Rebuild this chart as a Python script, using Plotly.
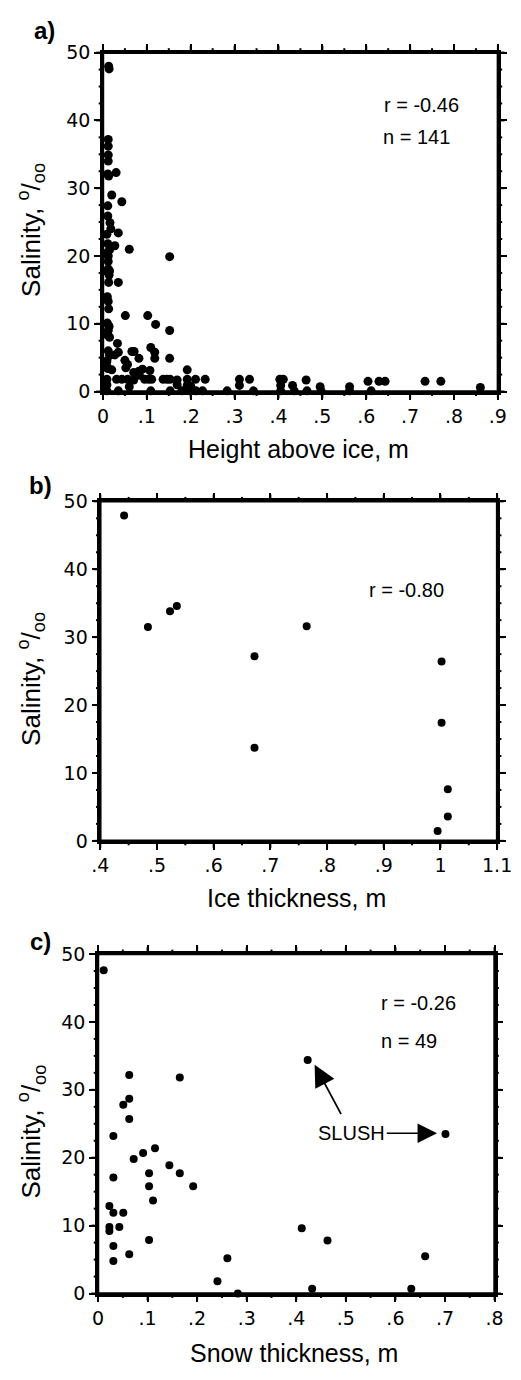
import numpy as np
import plotly.graph_objects as go

# ---------------- data ----------------
# Panel a: salinity vs height above ice
a_x = [0.013, 0.014, 0.012, 0.012, 0.012, 0.012, 0.011, 0.013,
       0.030, 0.020, 0.043,
       0.011, 0.011, 0.016, 0.018, 0.009, 0.035,
       0.011, 0.027, 0.015, 0.060, 0.152,
       0.010, 0.012, 0.012, 0.012, 0.010, 0.015, 0.014,
       0.013, 0.035,
       0.010, 0.012, 0.013,
       0.051, 0.102, 0.120, 0.152,
       0.010, 0.014, 0.012, 0.011, 0.015,
       0.033,
       0.012, 0.015, 0.035, 0.027,
       0.066, 0.071, 0.082, 0.109, 0.118, 0.118, 0.152,
       0.050, 0.056, 0.052,
       0.009, 0.008, 0.011, 0.020,
       0.082, 0.090, 0.107, 0.192,
       0.070, 0.083,
       0.009, 0.031, 0.043, 0.056, 0.070, 0.095, 0.104, 0.111, 0.137, 0.146,
       0.153, 0.169, 0.192, 0.211, 0.233, 0.311, 0.334, 0.403, 0.411, 0.463,
       0.604, 0.629, 0.643, 0.734, 0.770,
       0.009, 0.060, 0.169, 0.192, 0.200, 0.311, 0.405, 0.432, 0.495, 0.562, 0.860,
       0.009, 0.035, 0.109, 0.153, 0.180, 0.198, 0.212, 0.227, 0.283, 0.343,
       0.405, 0.436, 0.465, 0.497, 0.562, 0.611]
a_y = [48.0, 47.6, 37.2, 36.2, 34.9, 34.0, 32.1, 31.8,
       32.3, 29.0, 28.0,
       27.4, 25.9, 24.9, 24.0, 23.2, 23.4,
       21.8, 21.5, 20.9, 21.0, 19.9,
       20.5, 20.0, 19.2, 18.1, 17.7, 17.8, 17.2,
       16.1, 16.1,
       14.0, 13.3, 12.2,
       11.2, 11.2, 9.9, 9.0,
       10.1, 9.6, 9.0, 8.3, 8.0,
       7.1,
       6.0, 5.3, 5.8, 5.4,
       5.9, 5.9, 4.9, 6.5, 5.8, 4.9, 4.9,
       4.6, 4.0, 3.5,
       4.5, 3.9, 3.4, 3.2,
       3.0, 3.3, 3.1, 3.2,
       2.8, 2.4,
       1.8, 1.8, 1.8, 1.8, 1.7, 1.8, 1.8, 1.8, 1.8, 1.8,
       1.8, 1.7, 1.8, 1.8, 1.8, 1.8, 1.8, 1.8, 1.8, 1.7,
       1.5, 1.5, 1.5, 1.5, 1.5,
       1.0, 0.7, 1.0, 0.9, 0.8, 0.9, 0.9, 0.9, 0.7, 0.7, 0.6,
       0.1, 0.1, 0.1, 0.1, 0.1, 0.1, 0.1, 0.1, 0.1, 0.1,
       0.1, 0.1, 0.1, 0.1, 0.1, 0.1]

# Panel b: salinity vs ice thickness
b_x = [0.442, 0.484, 0.523, 0.535, 0.672, 0.672, 0.764, 1.002, 1.002, 1.013, 1.013, 0.995]
b_y = [47.9, 31.5, 33.8, 34.6, 27.2, 13.7, 31.6, 26.4, 17.4, 7.6, 3.6, 1.45]

# Panel c: salinity vs snow thickness
c_x = [0.0115, 0.063, 0.165, 0.423, 0.051, 0.063, 0.063, 0.031, 0.701, 0.115,
       0.091, 0.072, 0.144, 0.103, 0.165, 0.031, 0.103, 0.192, 0.111, 0.023,
       0.031, 0.051, 0.023, 0.023, 0.043, 0.411, 0.103, 0.463, 0.031, 0.063,
       0.031, 0.261, 0.660, 0.241, 0.432, 0.632, 0.282]
c_y = [47.6, 32.2, 31.8, 34.4, 27.8, 28.7, 25.7, 23.2, 23.5, 21.4,
       20.7, 19.8, 18.9, 17.7, 17.7, 17.1, 15.8, 15.8, 13.7, 12.9,
       11.9, 11.9, 9.8, 9.2, 9.8, 9.6, 7.9, 7.8, 7.0, 5.8,
       4.8, 5.2, 5.5, 1.8, 0.7, 0.7, 0.0]

# tick labels
y_tickvals = [0, 10, 20, 30, 40, 50]
y_ticktext = ["0", "10", "20", "30", "40", "50"]
a_tickvals = [0, 0.1, 0.2, 0.3, 0.4, 0.5, 0.6, 0.7, 0.8, 0.9]
a_ticktext = ["0", ".1", ".2", ".3", ".4", ".5", ".6", ".7", ".8", ".9"]
b_tickvals = [0.4, 0.5, 0.6, 0.7, 0.8, 0.9, 1.0, 1.1]
b_ticktext = [".4", ".5", ".6", ".7", ".8", ".9", "1", "1.1"]
c_tickvals = [0, 0.1, 0.2, 0.3, 0.4, 0.5, 0.6, 0.7, 0.8]
c_ticktext = ["0", ".1", ".2", ".3", ".4", ".5", ".6", ".7", ".8"]

x_titles = ["Height above ice, m", "Ice thickness, m", "Snow thickness, m"]
y_title = "Salinity, <sup>o</sup>/<sub>oo</sub>"
panel_labels = ["a)", "b)", "c)"]

# ---------------- figure ----------------
W, H = 521, 1380
FONT = "Liberation Sans, Arial, sans-serif"
TICKFONT = "DejaVu Sans, sans-serif"

def px_x(p):
    return p / W

def px_y(p):
    return 1 - p / H

fig = go.Figure()
fig.add_trace(go.Scatter(x=a_x, y=a_y, mode="markers", xaxis="x", yaxis="y",
                         marker=dict(color="black", size=9), cliponaxis=False,
                         showlegend=False))
fig.add_trace(go.Scatter(x=b_x, y=b_y, mode="markers", xaxis="x2", yaxis="y2",
                         marker=dict(color="black", size=8), cliponaxis=False,
                         showlegend=False))
fig.add_trace(go.Scatter(x=c_x, y=c_y, mode="markers", xaxis="x3", yaxis="y3",
                         marker=dict(color="black", size=8), cliponaxis=False,
                         showlegend=False))

def xaxis(dom, rng, tv, tt, anchor):
    return dict(domain=dom, range=rng, anchor=anchor,
                tickmode="array", tickvals=tv, ticktext=tt,
                showline=True, linewidth=2.5, linecolor="black", mirror="allticks",
                ticks="outside", ticklen=6, tickwidth=2, tickcolor="black",
                showgrid=False, zeroline=False,
                tickfont=dict(family=TICKFONT, size=19, color="black"))

def yaxis(dom, anchor):
    return dict(domain=dom, range=[0, 50], anchor=anchor,
                tickmode="array", tickvals=y_tickvals, ticktext=y_ticktext,
                showline=True, linewidth=2.5, linecolor="black", mirror="allticks",
                ticks="outside", ticklen=6, tickwidth=2, tickcolor="black",
                showgrid=False, zeroline=False,
                tickfont=dict(family=TICKFONT, size=19, color="black"))

frames = [
    dict(l=98.5, r=512.5, t=42.3, b=386.7),
    dict(l=95.7, r=511.7, t=498.3, b=843.3),
    dict(l=93.3, r=509.0, t=958.3, b=1303.3),
]
doms = [([px_x(f["l"]), px_x(f["r"])], [px_y(f["b"]), px_y(f["t"])]) for f in frames]

fig.update_layout(
    width=W, height=H,
    margin=dict(l=0, r=0, t=0, b=0),
    paper_bgcolor="white", plot_bgcolor="white",
    xaxis=xaxis(doms[0][0], [0, 0.9], a_tickvals, a_ticktext, "y"),
    yaxis=yaxis(doms[0][1], "x"),
    xaxis2=xaxis(doms[1][0], [0.4, 1.1], b_tickvals, b_ticktext, "y2"),
    yaxis2=yaxis(doms[1][1], "x2"),
    xaxis3=xaxis(doms[2][0], [0, 0.8], c_tickvals, c_ticktext, "y3"),
    yaxis3=yaxis(doms[2][1], "x3"),
)

# frame and tick marks (major + minor) on all four sides, in paper coordinates
shapes = []
LINE = dict(color="black", width=2)
ranges = [[0, 0.9], [0.4, 1.1], [0, 0.8]]
for (xd, yd), rng in zip(doms, ranges):
    shapes.append(dict(type="rect", xref="paper", yref="paper",
                       x0=xd[0], x1=xd[1], y0=yd[0], y1=yd[1],
                       line=dict(color="black", width=2.5), layer="above"))
    x_ticks = np.round(np.arange(rng[0], rng[1] + 1e-9, 0.05), 3)
    for i, v in enumerate(x_ticks):
        fx = xd[0] + (v - rng[0]) / (rng[1] - rng[0]) * (xd[1] - xd[0])
        ln = (7 if i % 2 == 0 else 4.5) / H
        shapes.append(dict(type="line", xref="paper", yref="paper",
                           x0=fx, x1=fx, y0=yd[0], y1=yd[0] - ln, line=LINE, layer="above"))
        shapes.append(dict(type="line", xref="paper", yref="paper",
                           x0=fx, x1=fx, y0=yd[1], y1=yd[1] + ln, line=LINE, layer="above"))
    y_ticks = np.arange(0, 50 + 1e-9, 2.5)
    for i, v in enumerate(y_ticks):
        fy = yd[0] + v / 50.0 * (yd[1] - yd[0])
        ln = (7 if i % 4 == 0 else 4.5) / W
        shapes.append(dict(type="line", xref="paper", yref="paper",
                           x0=xd[0], x1=xd[0] - ln, y0=fy, y1=fy, line=LINE, layer="above"))
        shapes.append(dict(type="line", xref="paper", yref="paper",
                           x0=xd[1], x1=xd[1] + ln, y0=fy, y1=fy, line=LINE, layer="above"))
fig.update_layout(shapes=shapes)

ann = []
title_font = dict(family=FONT, size=25, color="black")
x_title_y = [445.0, 901.0, 1364.0]
for f, t, yy in zip(frames, x_titles, x_title_y):
    ann.append(dict(text=t, xref="paper", yref="paper",
                    x=px_x((f["l"] + f["r"]) / 2 - 2), y=px_y(yy),
                    xanchor="center", yanchor="middle", showarrow=False,
                    font=title_font))
for f in frames:
    ann.append(dict(text=y_title, xref="paper", yref="paper",
                    x=px_x(23), y=px_y((f["t"] + f["b"]) / 2 + 8),
                    xanchor="center", yanchor="middle", textangle=-90,
                    showarrow=False, font=dict(family=FONT, size=26, color="black")))
label_pos = [(37, 20), (33, 482), (33, 946)]
for lab, (lx, ly) in zip(panel_labels, label_pos):
    ann.append(dict(text=lab, xref="paper", yref="paper",
                    x=px_x(lx), y=px_y(ly), xanchor="center", yanchor="middle",
                    showarrow=False,
                    font=dict(family=FONT, size=24, color="black", weight="bold")))

stat_font = dict(family=FONT, size=20, color="black")
ann += [
    dict(text="r = -0.46", xref="x", yref="y", x=0.725, y=42.2, showarrow=False, font=stat_font),
    dict(text="n = 141", xref="x", yref="y", x=0.715, y=37.6, showarrow=False, font=stat_font),
    dict(text="r = -0.80", xref="x2", yref="y2", x=0.94, y=36.9, showarrow=False, font=stat_font),
    dict(text="r = -0.26", xref="x3", yref="y3", x=0.646, y=42.8, showarrow=False, font=stat_font),
    dict(text="n = 49", xref="x3", yref="y3", x=0.628, y=37.2, showarrow=False, font=stat_font),
    dict(text="SLUSH", xref="x3", yref="y3", x=0.684, y=23.6, axref="x3", ayref="y3",
         ax=0.512, ay=23.6, showarrow=True, arrowhead=2, arrowsize=2.6,
         arrowwidth=1.5, arrowcolor="black", standoff=0,
         font=dict(family=FONT, size=20, color="black")),
    dict(text="", xref="x3", yref="y3", x=0.437, y=33.7, axref="x3", ayref="y3",
         ax=0.492, ay=26.2, showarrow=True, arrowhead=2, arrowsize=2.4,
         arrowwidth=1.8, arrowcolor="black", standoff=0),
]
fig.update_layout(annotations=ann)

fig.write_html("out.html")
